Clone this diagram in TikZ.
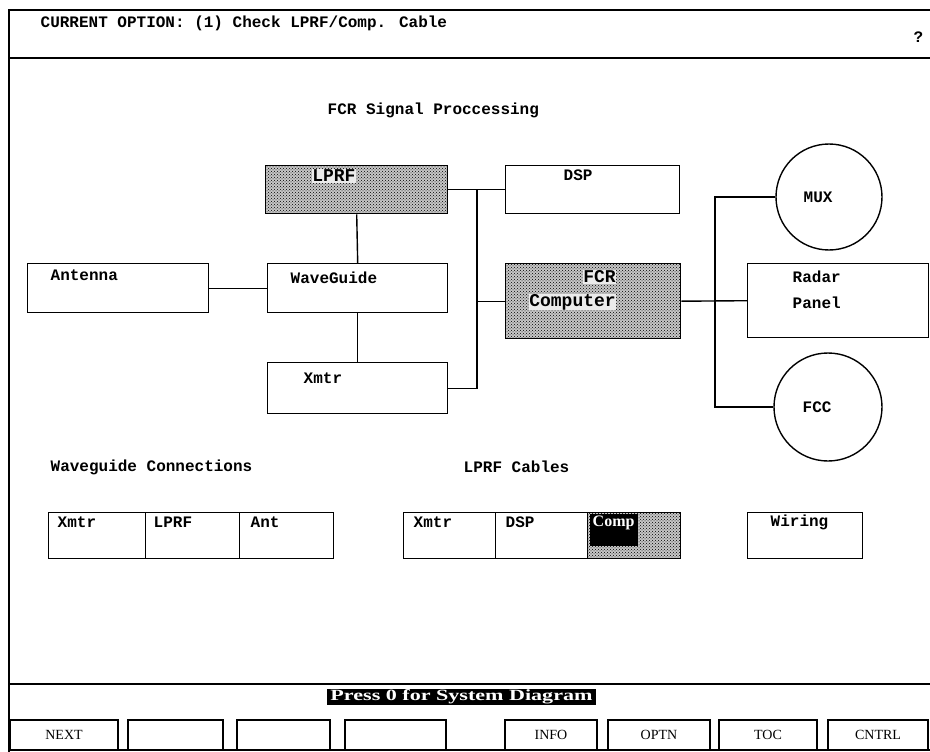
\documentclass[tikz,border=0pt]{standalone}
\usepackage{fontspec}
\usepackage{graphicx}
\setmainfont{Liberation Mono}
\newfontfamily\btnfont{Liberation Serif}
\usetikzlibrary{patterns}
\begin{document}
\begin{tikzpicture}[x=1pt,y=-1pt,line width=1.4pt,
  box/.style={draw,rectangle,inner sep=0pt,anchor=north west},
  shaded/.style={box,preaction={fill=black!22},pattern=crosshatch dots,pattern color=black},
  circ/.style={draw,circle,inner sep=0pt},
  lbl/.style={anchor=west,inner sep=0pt,font=\fontsize{16}{17}\selectfont\bfseries},
  blbl/.style={anchor=west,inner sep=0.6pt,fill=black!8,font=\fontsize{18}{19}\selectfont\bfseries},
  btn/.style={draw,rectangle,inner sep=0pt,minimum height=30pt,font=\btnfont\fontsize{14}{15}\selectfont},
  wire/.style={line width=1.4pt}]
\useasboundingbox (0,0) rectangle (930,752);
% frame
\draw (930,10) -- (9,10) -- (9,752);
\draw (9,58) -- (930,58);
\draw (9,684) -- (930,684);
\draw (9,750) -- (930,750);
% header
\node[lbl] (cur) at (40,23) {CURRENT OPTION: (1) Check LPRF/Comp. Cable};
\node[lbl] (help) at (913,37) {?};
% title
\node[lbl] (title) at (327,110) {FCR Signal Proccessing};
% boxes
\node[box,minimum width=181pt,minimum height=49pt] (ant) at (27,263) {};
\node[box,minimum width=180pt,minimum height=49pt] (wg) at (267,263) {};
\node[box,minimum width=180pt,minimum height=51pt] (xmtr) at (267,362) {};
\node[shaded,minimum width=182pt,minimum height=48pt] (lprf) at (265,165) {};
\node[box,minimum width=174pt,minimum height=48pt] (dsp) at (505,165) {};
\node[shaded,minimum width=175pt,minimum height=75pt] (fcr) at (505,263) {};
\node[box,minimum width=181pt,minimum height=74pt] (radar) at (747,263) {};
\node[circ,minimum size=106pt] (mux) at (829,197) {};
\node[circ,minimum size=108pt] (fcc) at (828,407) {};
% box texts
\node[lbl] (tant) at (50,275) {Antenna};
\node[lbl] (twg) at (290,278) {WaveGuide};
\node[lbl] (txm) at (303,378) {Xmtr};
\node[lbl] (tdsp) at (563,175) {DSP};
\node[blbl] (tlprf) at (311,176) {LPRF};
\node[blbl] (tfcr) at (582,277) {FCR};
\node[blbl] (tcomp) at (528,302) {Computer};
\node[lbl] (trad) at (792,277) {Radar};
\node[lbl] (tpan) at (792,303) {Panel};
\node[lbl] (tmux) at (803,197) {MUX};
\node[lbl] (tfcc) at (802,407) {FCC};
% connectors
\coordinate (lbus) at (477,189);
\coordinate (rbus) at (715,194);
\draw[wire] (ant.east) -- (wg.west);
\draw[wire] (lprf.south) -- (wg.north);
\draw[wire] (wg.south) -- (xmtr.north);
\draw[wire] (lprf.east) -- (dsp.west);
\draw[wire] (xmtr.east) -| (lbus);
\draw[wire] (fcr.west) -- (fcr.west -| lbus);
\draw[wire] (fcr.east) -- (radar.west);
\draw[wire] (mux.west) -- (mux.west -| rbus) -- (fcc.west -| rbus) -- (fcc.west);
% lower sections
\node[lbl] (twgc) at (50,467) {Waveguide Connections};
\node[lbl] (tlc) at (463,467) {LPRF Cables};
\node[box,minimum width=97pt,minimum height=46pt] (wc1) at (48,512) {};
\node[box,minimum width=94pt,minimum height=46pt] (wc2) at (145,512) {};
\node[box,minimum width=94pt,minimum height=46pt] (wc3) at (239,512) {};
\node[box,minimum width=92pt,minimum height=46pt] (lc1) at (403,512) {};
\node[box,minimum width=92pt,minimum height=46pt] (lc2) at (495,512) {};
\node[shaded,minimum width=93pt,minimum height=46pt] (lc3) at (587,512) {};
\node[anchor=north west,fill=black,inner sep=0pt,minimum width=48pt,minimum height=32pt] (compbg) at (589,513) {};
\node[box,minimum width=115pt,minimum height=46pt] (wir) at (747,512) {};
\node[lbl] (twc1) at (57,522) {Xmtr};
\node[lbl] (twc2) at (153,522) {LPRF};
\node[lbl] (twc3) at (250,522) {Ant};
\node[lbl] (tlc1) at (413,522) {Xmtr};
\node[lbl] (tlc2) at (505,522) {DSP};
\node[anchor=west,inner sep=0pt,text=white,font=\btnfont\bfseries\fontsize{16}{17}\selectfont] (tlc3) at (592,523) {Comp};
\node[lbl] (twir) at (770,522) {Wiring};
% banner
\node[fill=black,text=white,inner sep=0pt,minimum width=269pt,minimum height=16pt] (banner) at (461.5,697) {\resizebox{262pt}{11pt}{\btnfont\bfseries Press 0 for System Diagram}};
% buttons
\node[btn,minimum width=108pt] (bnext) at (64,735) {NEXT};
\node[btn,minimum width=95pt] (b2) at (175.5,735) {};
\node[btn,minimum width=93pt] (b3) at (283.5,735) {};
\node[btn,minimum width=101pt] (b4) at (395.5,735) {};
\node[btn,minimum width=92pt] (binfo) at (551,735) {INFO};
\node[btn,minimum width=102pt] (boptn) at (659,735) {OPTN};
\node[btn,minimum width=98pt] (btoc) at (768,735) {TOC};
\node[btn,minimum width=100pt] (bcntrl) at (878,735) {CNTRL};
\end{tikzpicture}
\end{document}
